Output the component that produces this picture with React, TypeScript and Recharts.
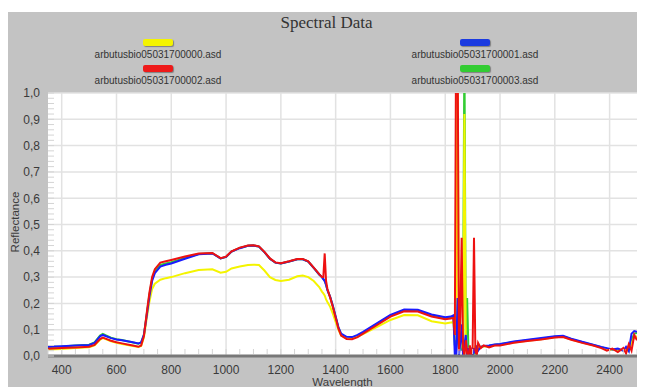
import { CartesianGrid, Line, LineChart, XAxis, YAxis } from "recharts";

const WAVELENGTHS = [
  350, 400, 450, 500, 520, 540, 550, 560, 580, 600,
  620, 640, 660, 680, 690, 700, 710, 720, 730, 740,
  760, 780, 800, 850, 900, 950, 980, 1000, 1020, 1050,
  1080, 1100, 1120, 1140, 1160, 1180, 1200, 1230, 1260, 1280,
  1300, 1320, 1340, 1350, 1355, 1360, 1365, 1370, 1380, 1390,
  1400, 1410, 1420, 1440, 1460, 1480, 1500, 1550, 1600, 1650,
  1700, 1750, 1800, 1820, 1830, 1835, 1840, 1845, 1850, 1855,
  1860, 1865, 1870, 1875, 1880, 1885, 1890, 1895, 1900, 1905,
  1910, 1915, 1920, 1930, 1940, 1960, 1980, 2000, 2050, 2100,
  2150, 2200, 2230, 2260, 2300, 2340, 2370, 2390, 2410, 2430,
  2450, 2460, 2470, 2480, 2490, 2500,
];

// arbutusbio05031700000.asd
const YELLOW = [
  0.025, 0.027, 0.03, 0.033, 0.04, 0.062, 0.068, 0.064, 0.056, 0.05,
  0.046, 0.042, 0.038, 0.034, 0.038, 0.07, 0.14, 0.205, 0.255, 0.275,
  0.29, 0.296, 0.3, 0.315, 0.327, 0.33, 0.317, 0.32, 0.333, 0.34,
  0.346, 0.347, 0.346, 0.325, 0.3, 0.289, 0.285, 0.29, 0.303, 0.306,
  0.3, 0.285, 0.262, 0.245, 0.238, 0.23, 0.215, 0.205, 0.187, 0.16,
  0.13, 0.1, 0.078, 0.068, 0.068, 0.074, 0.083, 0.11, 0.137, 0.156,
  0.155, 0.132, 0.124, 0.127, 0.13, 0.06, 0.15, 1.2, 0.05, 0.03,
  0.08, 0.02, 0.92, 0.04, 0.0, 0.02, 0.0, 0.03, 0.01, 0.02,
  0.04, 0.01, 0.03, 0.035, 0.036, 0.038, 0.041, 0.043, 0.051, 0.058,
  0.064, 0.071, 0.073, 0.063, 0.051, 0.041, 0.032, 0.027, 0.024, 0.026,
  0.022, 0.028, 0.02, 0.05, 0.07, 0.075,
];

// arbutusbio05031700001.asd
const BLUE = [
  0.035, 0.037, 0.04, 0.042, 0.05, 0.075, 0.08, 0.076, 0.068, 0.063,
  0.06, 0.056, 0.052, 0.048, 0.052, 0.08, 0.15, 0.225, 0.285, 0.315,
  0.34, 0.347, 0.352, 0.37, 0.387, 0.39, 0.371, 0.377, 0.397, 0.41,
  0.419, 0.42, 0.416, 0.395, 0.37, 0.355, 0.352, 0.359, 0.368, 0.368,
  0.359, 0.335, 0.31, 0.3, 0.292, 0.285, 0.27, 0.25, 0.225, 0.19,
  0.15, 0.11, 0.085, 0.073, 0.072, 0.08, 0.092, 0.124, 0.156, 0.177,
  0.176, 0.158, 0.147, 0.15, 0.155, 0.0, 0.0, 0.22, 0.0, 0.05,
  0.12, 0.0, 0.04, 0.08, 0.0, 0.03, 0.0, 0.02, 0.0, 0.03,
  0.01, 0.04, 0.02, 0.035, 0.038, 0.04, 0.044, 0.046, 0.055, 0.062,
  0.068, 0.075, 0.077, 0.066, 0.054, 0.043, 0.034, 0.03, 0.025, 0.028,
  0.02, 0.035, 0.018, 0.085, 0.095, 0.092,
];

// arbutusbio05031700002.asd
const RED = [
  0.028, 0.03, 0.032, 0.035, 0.042, 0.064, 0.07, 0.066, 0.058, 0.052,
  0.048, 0.044, 0.04, 0.035, 0.04, 0.075, 0.16, 0.24, 0.3, 0.33,
  0.355, 0.36, 0.365, 0.378, 0.39, 0.392, 0.372, 0.378, 0.398, 0.412,
  0.42, 0.421, 0.417, 0.396, 0.371, 0.356, 0.353, 0.36, 0.369, 0.369,
  0.36, 0.336, 0.311, 0.3, 0.3, 0.39, 0.285, 0.255, 0.222, 0.185,
  0.145, 0.105, 0.078, 0.065, 0.064, 0.072, 0.085, 0.117, 0.15, 0.17,
  0.169, 0.15, 0.14, 0.143, 0.145, 0.08, 1.3, 1.3, 0.02, 0.15,
  0.45, 0.03, 0.0, 0.06, 0.01, 0.0, 0.04, 0.0, 0.03, 0.45,
  0.02, 0.0, 0.05, 0.03, 0.04, 0.033, 0.04, 0.04, 0.05, 0.057,
  0.063, 0.07, 0.072, 0.062, 0.05, 0.04, 0.03, 0.02, 0.028, 0.015,
  0.03, 0.01, 0.045, 0.02, 0.08, 0.06,
];

// arbutusbio05031700003.asd
const GREEN = [
  0.034, 0.036, 0.04, 0.043, 0.052, 0.078, 0.084, 0.079, 0.07, 0.064,
  0.061, 0.056, 0.051, 0.047, 0.051, 0.08, 0.155, 0.232, 0.292, 0.322,
  0.346, 0.352, 0.357, 0.373, 0.388, 0.391, 0.371, 0.377, 0.397, 0.411,
  0.419, 0.42, 0.416, 0.395, 0.37, 0.355, 0.352, 0.359, 0.368, 0.368,
  0.359, 0.335, 0.31, 0.3, 0.293, 0.286, 0.271, 0.251, 0.224, 0.188,
  0.148, 0.108, 0.082, 0.07, 0.069, 0.077, 0.089, 0.121, 0.153, 0.174,
  0.173, 0.155, 0.144, 0.147, 0.15, 0.04, 0.1, 0.06, 0.03, 0.08,
  0.02, 0.15, 1.2, 0.03, 0.22, 0.01, 0.03, 0.0, 0.02, 0.01,
  0.03, 0.02, 0.03, 0.034, 0.037, 0.039, 0.043, 0.045, 0.053, 0.06,
  0.066, 0.073, 0.075, 0.064, 0.052, 0.042, 0.033, 0.028, 0.025, 0.024,
  0.022, 0.03, 0.02, 0.06, 0.085, 0.088,
];

const SERIES = [
  { key: "s3", name: "arbutusbio05031700003.asd", color: "#33cc33", values: GREEN },
  { key: "s0", name: "arbutusbio05031700000.asd", color: "#f4f400", values: YELLOW },
  { key: "s1", name: "arbutusbio05031700001.asd", color: "#1a1aff", values: BLUE },
  { key: "s2", name: "arbutusbio05031700002.asd", color: "#ee1111", values: RED },
];

const LEGEND = [
  { name: "arbutusbio05031700000.asd", color: "#f4f400" },
  { name: "arbutusbio05031700001.asd", color: "#1a3ae0" },
  { name: "arbutusbio05031700002.asd", color: "#ee1a1a" },
  { name: "arbutusbio05031700003.asd", color: "#33cc33" },
];

const X_TICKS = [400, 600, 800, 1000, 1200, 1400, 1600, 1800, 2000, 2200, 2400];
const Y_TICKS = [0, 0.1, 0.2, 0.3, 0.4, 0.5, 0.6, 0.7, 0.8, 0.9, 1.0];
const X_MINOR = Array.from({ length: 44 }, (_, i) => 350 + i * 50);
const Y_MINOR = Array.from({ length: 51 }, (_, i) => Math.round(i * 2) / 100);

const rows = WAVELENGTHS.map((wl, i) => {
  const row: Record<string, number> = { wl };
  SERIES.forEach((s) => (row[s.key] = s.values[i]));
  return row;
});

const TEXT = "#3a3a3a";

function YTick(props: any) {
  const { x, y, payload } = props;
  const v = payload.value as number;
  const major = Y_TICKS.some((t) => Math.abs(t - v) < 1e-6);
  return (
    <g>
      <line x1={x + 8} x2={x + 14} y1={y} y2={y} stroke="#d4d4d4" />
      {major && (
        <text x={x} y={y} dy="0.36em" textAnchor="end" fill={TEXT} fontSize={12}>
          {v.toFixed(1).replace(".", ",")}
        </text>
      )}
    </g>
  );
}

function XTick(props: any) {
  const { x, y, payload } = props;
  const v = payload.value as number;
  const major = X_TICKS.includes(v);
  return (
    <g>
      <line x1={x} x2={x} y1={y - 10} y2={y - 15} stroke="#d4d4d4" />
      {major && (
        <text x={x} y={y} dy="0.8em" textAnchor="middle" fill={TEXT} fontSize={12}>
          {v}
        </text>
      )}
    </g>
  );
}

export default function App() {
  return (
    <div
      style={{
        position: "relative",
        width: 637,
        height: 379,
        fontFamily: "'Liberation Sans', Arial, sans-serif",
      }}
    >
      <div style={{ position: "absolute", left: 0, top: 4, width: 637, height: 375, background: "#c3c3c3" }}>
        <LineChart
          width={637}
          height={375}
          data={rows}
          margin={{ top: 81, right: 8, bottom: 0, left: 0 }}
          style={{ position: "absolute", left: 0, top: 0 }}
        >
          <CartesianGrid
            fill="#ffffff"
            stroke="#e2e2e2"
            strokeWidth={1.5}
            horizontalValues={Y_TICKS}
            verticalValues={X_TICKS}
          />
          <XAxis
            dataKey="wl"
            type="number"
            domain={[350, 2500]}
            ticks={X_MINOR}
            interval={0}
            tick={(p: any) => <XTick {...p} />}
            tickLine={false}
            tickSize={6}
            tickMargin={2}
            height={31}
            axisLine={{ stroke: "#787878", strokeWidth: 3 }}
            label={{ value: "Wavelength", position: "insideBottom", offset: 1, fill: TEXT, fontSize: 11.5 }}
          />
          <YAxis
            type="number"
            domain={[0, 1]}
            allowDataOverflow
            ticks={Y_MINOR}
            interval={0}
            width={40}
            tick={(p: any) => <YTick {...p} />}
            tickLine={false}
            tickSize={6}
            tickMargin={2}
            axisLine={false}
          />
          <YAxis
            yAxisId="right"
            orientation="right"
            domain={[0, 1]}
            width={0}
            tick={false}
            tickLine={false}
            axisLine={{ stroke: "#a0a0a0", strokeWidth: 3 }}
          />
          {SERIES.map((s) => (
            <Line
              key={s.key}
              dataKey={s.key}
              name={s.name}
              stroke={s.color}
              strokeWidth={2}
              dot={false}
              type="linear"
              isAnimationActive={false}
            />
          ))}
        </LineChart>

        <div
          style={{
            position: "absolute",
            left: 0,
            width: 637,
            top: 1,
            textAlign: "center",
            fontFamily: "'Liberation Serif', 'Times New Roman', serif",
            fontSize: 17,
            color: "#333",
          }}
        >
          Spectral Data
        </div>

        {LEGEND.map((item, i) => {
          const cx = i % 2 === 0 ? 150 : 467;
          const top = i < 2 ? 27 : 53;
          return (
            <div key={item.name} style={{ position: "absolute", left: cx - 80, width: 160, top, textAlign: "center" }}>
              <div
                style={{
                  width: 30,
                  height: 7,
                  margin: "0 auto",
                  background: item.color,
                  borderRadius: 2,
                  boxShadow: "1px 1px 1px rgba(0,0,0,0.35)",
                }}
              />
              <div style={{ fontSize: 10, color: "#333", marginTop: 3, lineHeight: "12px" }}>{item.name}</div>
            </div>
          );
        })}

        <div
          style={{
            position: "absolute",
            left: 7 - 40,
            top: 210 - 7,
            width: 80,
            height: 14,
            lineHeight: "14px",
            textAlign: "center",
            fontSize: 11.5,
            color: TEXT,
            transform: "rotate(-90deg)",
          }}
        >
          Reflectance
        </div>
      </div>
    </div>
  );
}
